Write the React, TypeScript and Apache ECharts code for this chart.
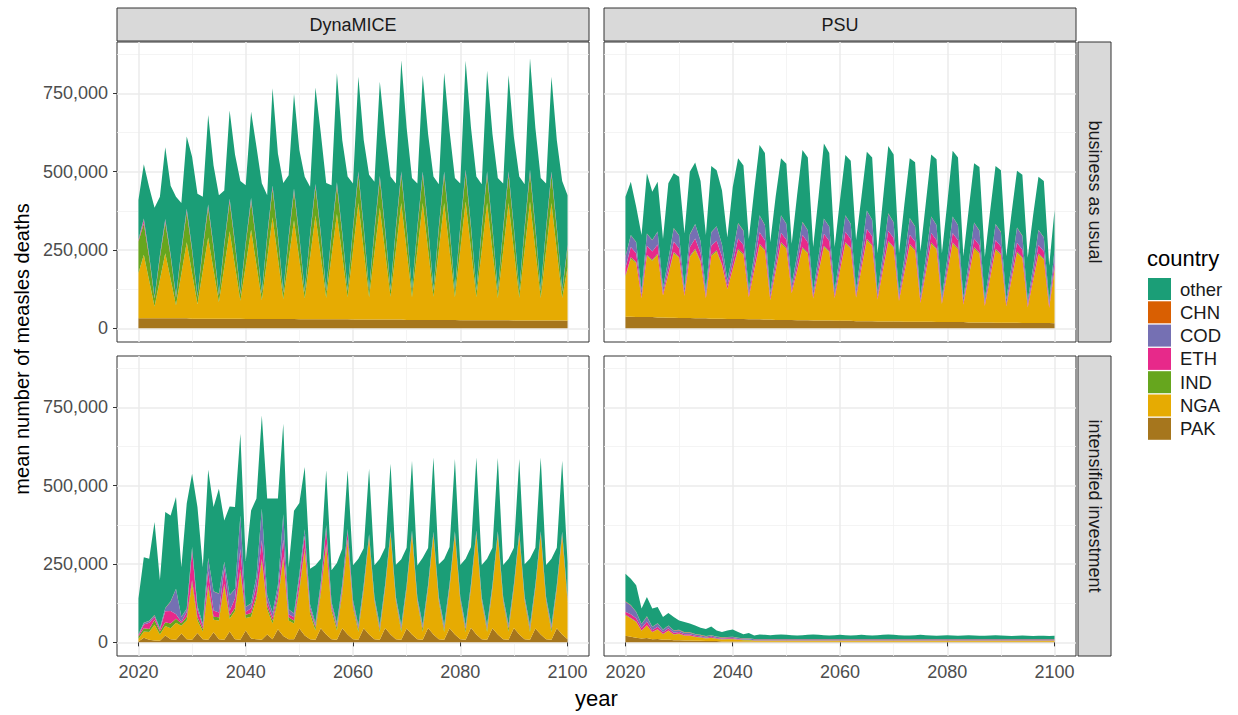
import React, { useEffect, useRef } from "react";
import * as echarts from "echarts";

// ---------- data (mean measles deaths, thousands) ----------
const YEARS: number[] = Array.from({ length: 81 }, (_, i) => 2020 + i);
const UNIT = 1000;
const X_TICKS = [2020, 2040, 2060, 2080, 2100];
const X_MINOR = [2030, 2050, 2070, 2090];
const Y_TICKS = [0, 250000, 500000, 750000];
const Y_MINOR = [125000, 375000, 625000, 875000];
const COUNTRIES = ["other", "CHN", "COD", "ETH", "IND", "NGA", "PAK"];
const MODELS = ["DynaMICE", "PSU"];
const SCENARIOS = ["business as usual", "intensified investment"];

const CHN_ALL = [
  1, 1, 1, 1, 1, 1, 1, 1, 1, 1, 1, 1, 1, 1, 1, 1, 1, 1, 1, 1,
  1, 1, 1, 1, 1, 1, 1, 1, 1, 1, 1, 1, 1, 1, 1, 1, 1, 1, 1, 1,
  1, 1, 1, 1, 1, 1, 1, 1, 1, 1, 1, 1, 1, 1, 1, 1, 1, 1, 1, 1,
  1, 1, 1, 1, 1, 1, 1, 1, 1, 1, 1, 1, 1, 1, 1, 1, 1, 1, 1, 1,
  1,
];

// DynaMICE - business as usual
const A_PAK = [
  32, 32, 32, 32, 32, 32, 32, 32, 32, 32,
  31, 31, 31, 31, 31, 31, 31, 31, 31, 31,
  30, 30, 30, 30, 30, 30, 30, 30, 30, 30,
  29, 29, 29, 29, 29, 29, 29, 29, 29, 29,
  28, 28, 28, 28, 28, 28, 28, 28, 28, 28,
  27, 27, 27, 27, 27, 27, 27, 27, 27, 27,
  26, 26, 26, 26, 26, 26, 26, 26, 26, 26,
  25, 25, 25, 25, 25, 25, 25, 25, 25, 25,
  24,
];
const A_NGA = [
  145, 203, 120, 38, 123, 208, 125, 42, 142, 243,
  145, 47, 153, 259, 155, 52, 165, 279, 168, 57,
  171, 285, 172, 60, 192, 325, 194, 63, 189, 315,
  190, 66, 198, 331, 200, 68, 202, 336, 203, 70,
  221, 372, 221, 71, 214, 357, 215, 73, 222, 372,
  222, 72, 222, 373, 224, 74, 223, 373, 222, 72,
  225, 379, 226, 73, 223, 374, 222, 71, 222, 374,
  223, 73, 226, 380, 226, 72, 223, 375, 223, 72,
  170,
];
const A_IND = [
  100, 100, 74, 25, 72, 98, 72, 24, 71, 96,
  71, 23, 70, 94, 70, 22, 69, 93, 69, 22,
  68, 90, 68, 21, 67, 90, 68, 21, 67, 90,
  68, 21, 67, 90, 68, 21, 67, 90, 68, 21,
  67, 90, 68, 21, 67, 90, 68, 21, 67, 90,
  68, 21, 67, 90, 68, 21, 67, 90, 68, 21,
  67, 90, 68, 21, 67, 90, 68, 21, 67, 90,
  68, 21, 67, 90, 68, 21, 67, 90, 68, 21,
  64,
];
const A_ETH = [
  3, 10, 3, 2, 3, 5, 3, 2, 3, 5,
  3, 2, 3, 5, 3, 2, 3, 5, 3, 2,
  3, 5, 3, 2, 3, 5, 3, 2, 3, 5,
  3, 2, 3, 5, 3, 2, 3, 5, 3, 2,
  3, 5, 3, 2, 3, 5, 3, 2, 3, 5,
  3, 2, 3, 5, 3, 2, 3, 5, 3, 2,
  3, 5, 3, 2, 3, 5, 3, 2, 3, 5,
  3, 2, 3, 5, 3, 2, 3, 5, 3, 2,
  3,
];
const A_COD = [
  3, 5, 3, 2, 3, 5, 3, 2, 3, 5,
  3, 2, 3, 5, 3, 2, 3, 5, 3, 2,
  3, 5, 3, 2, 3, 5, 3, 2, 3, 5,
  3, 2, 3, 5, 3, 2, 3, 5, 3, 2,
  3, 5, 3, 2, 3, 5, 3, 2, 3, 5,
  3, 2, 3, 5, 3, 2, 3, 5, 3, 2,
  3, 5, 3, 2, 3, 5, 3, 2, 3, 5,
  3, 2, 3, 5, 3, 2, 3, 5, 3, 2,
  3,
];
const A_OTHER = [
  126, 173, 217, 285, 186, 229, 219, 317, 148, 230,
  294, 324, 159, 286, 257, 315, 168, 281, 280, 355,
  181, 275, 303, 347, 129, 310, 259, 345, 196, 302,
  275, 363, 151, 308, 319, 341, 152, 348, 293, 360,
  139, 302, 277, 365, 152, 301, 302, 358, 138, 355,
  316, 355, 139, 307, 294, 358, 136, 315, 306, 355,
  137, 348, 313, 360, 137, 321, 297, 357, 140, 307,
  287, 361, 135, 356, 314, 357, 140, 302, 277, 347,
  160,
];

// PSU - business as usual
const B_PAK = [
  37, 37, 36, 36, 36, 36, 35, 35, 34, 34,
  33, 33, 33, 32, 32, 32, 31, 31, 31, 30,
  30, 30, 30, 29, 29, 29, 28, 28, 27, 27,
  27, 27, 26, 26, 26, 25, 25, 25, 25, 24,
  24, 24, 24, 23, 23, 23, 23, 22, 22, 22,
  22, 22, 21, 21, 21, 21, 21, 21, 20, 20,
  20, 20, 20, 20, 19, 19, 19, 19, 19, 18,
  18, 18, 18, 18, 17, 17, 17, 17, 17, 17,
  16,
];
const B_NGA = [
  128, 186, 173, 60, 195, 180, 200, 70, 138, 206,
  192, 70, 195, 218, 180, 64, 200, 214, 170, 95,
  158, 220, 205, 70, 154, 237, 220, 62, 153, 244,
  227, 85, 157, 229, 213, 70, 153, 235, 219, 72,
  160, 247, 230, 75, 167, 258, 240, 70, 162, 253,
  235, 65, 155, 244, 227, 60, 155, 249, 232, 58,
  154, 250, 232, 55, 146, 236, 219, 52, 142, 232,
  216, 52, 138, 223, 207, 50, 134, 218, 203, 48,
  170,
];
const B_IND = [
  3, 4, 3, 1, 3, 3, 3, 1, 2, 4,
  3, 1, 3, 4, 3, 1, 3, 4, 3, 1,
  2, 4, 3, 1, 2, 4, 3, 1, 2, 4,
  3, 1, 2, 4, 3, 1, 2, 4, 3, 1,
  2, 4, 3, 1, 2, 4, 3, 1, 2, 4,
  3, 1, 2, 4, 3, 1, 2, 4, 3, 1,
  2, 4, 3, 1, 2, 4, 3, 1, 2, 4,
  3, 1, 2, 4, 3, 1, 2, 4, 3, 1,
  2,
];
const B_ETH = [
  25, 33, 28, 8, 30, 26, 30, 8, 18, 33,
  28, 8, 28, 33, 25, 8, 30, 31, 25, 10,
  18, 33, 28, 8, 18, 37, 30, 8, 18, 30,
  26, 9, 18, 40, 32, 8, 18, 38, 32, 8,
  18, 33, 28, 8, 18, 32, 28, 8, 18, 32,
  28, 8, 17, 30, 26, 7, 17, 30, 26, 7,
  16, 30, 26, 7, 15, 28, 24, 7, 15, 28,
  24, 7, 15, 28, 24, 7, 15, 27, 23, 7,
  22,
];
const B_COD = [
  35, 37, 35, 15, 38, 36, 40, 15, 28, 42,
  40, 15, 40, 45, 38, 15, 42, 45, 38, 18,
  28, 48, 45, 15, 30, 53, 48, 15, 30, 55,
  50, 17, 30, 40, 38, 15, 30, 48, 45, 15,
  30, 52, 48, 16, 32, 58, 52, 15, 30, 55,
  50, 15, 30, 52, 48, 14, 30, 52, 48, 14,
  28, 52, 48, 14, 28, 50, 46, 14, 27, 50,
  46, 14, 27, 48, 44, 13, 26, 48, 44, 13,
  40,
];
const B_OTHER = [
  191, 170, 112, 177, 192, 154, 159, 155, 242, 175,
  187, 175, 200, 196, 191, 177, 211, 179, 172, 135,
  213, 207, 208, 161, 206, 224, 230, 160, 189, 182,
  191, 130, 191, 229, 232, 140, 191, 239, 235, 139,
  175, 192, 201, 158, 177, 188, 198, 123, 175, 215,
  216, 128, 169, 191, 204, 141, 174, 198, 210, 139,
  179, 210, 215, 132, 169, 189, 203, 134, 169, 185,
  197, 137, 169, 181, 194, 136, 165, 169, 179, 113,
  127,
];

// DynaMICE - intensified investment
const C_PAK = [
  3, 15, 8, 6, 5, 22, 10, 8, 28, 10,
  8, 30, 10, 8, 32, 10, 8, 35, 10, 8,
  38, 12, 10, 8, 25, 10, 42, 20, 10, 10,
  44, 22, 10, 8, 45, 25, 10, 8, 45, 25,
  10, 8, 45, 25, 10, 8, 46, 25, 10, 8,
  44, 25, 10, 8, 46, 25, 10, 8, 45, 25,
  10, 8, 47, 25, 10, 8, 45, 25, 10, 8,
  46, 25, 10, 8, 44, 25, 10, 8, 45, 25,
  10,
];
const C_NGA = [
  8, 20, 25, 50, 20, 30, 35, 55, 25, 60,
  180, 40, 25, 165, 40, 60, 170, 40, 90, 215,
  40, 70, 130, 250, 80, 50, 90, 245, 60, 50,
  120, 270, 80, 30, 110, 280, 90, 30, 110, 295,
  100, 25, 120, 310, 120, 25, 125, 320, 120, 25,
  125, 322, 118, 26, 124, 318, 120, 25, 126, 320,
  121, 24, 125, 322, 119, 25, 124, 320, 120, 26,
  125, 318, 121, 25, 126, 320, 120, 25, 124, 318,
  120,
];
const C_IND = [
  8, 10, 10, 15, 10, 12, 15, 12, 8, 12,
  10, 10, 8, 10, 10, 10, 8, 10, 10, 10,
  10, 12, 10, 8, 10, 10, 10, 8, 10, 10,
  10, 8, 10, 10, 10, 8, 10, 10, 10, 8,
  8, 10, 8, 3, 6, 10, 6, 3, 6, 10,
  6, 3, 6, 10, 6, 3, 6, 10, 6, 3,
  6, 10, 6, 3, 6, 10, 6, 3, 6, 10,
  6, 3, 6, 10, 6, 3, 6, 10, 6, 3,
  6,
];
const C_ETH = [
  3, 12, 20, 10, 5, 35, 40, 15, 5, 15,
  95, 25, 8, 45, 20, 15, 50, 15, 30, 65,
  10, 15, 30, 60, 15, 10, 20, 55, 10, 10,
  30, 40, 10, 5, 15, 50, 10, 5, 12, 25,
  8, 4, 5, 3, 3, 4, 3, 3, 3, 4,
  3, 3, 3, 4, 3, 3, 3, 4, 3, 3,
  3, 4, 3, 3, 3, 4, 3, 3, 3, 4,
  3, 3, 3, 4, 3, 3, 3, 4, 3, 3,
  3,
];
const C_COD = [
  3, 5, 5, 5, 5, 10, 30, 80, 15, 10,
  10, 10, 8, 40, 60, 60, 20, 50, 30, 106,
  15, 15, 30, 100, 20, 15, 20, 80, 15, 12,
  15, 20, 10, 8, 10, 10, 8, 8, 8, 8,
  8, 7, 6, 3, 5, 7, 5, 3, 5, 7,
  5, 3, 5, 7, 5, 3, 5, 7, 5, 3,
  5, 7, 5, 3, 5, 7, 5, 3, 5, 7,
  5, 3, 5, 7, 5, 3, 5, 7, 5, 3,
  5,
];
const C_OTHER = [
  114, 209, 198, 297, 152, 306, 274, 293, 158, 335,
  234, 316, 180, 282, 269, 334, 132, 283, 261, 261,
  146, 296, 248, 297, 308, 363, 276, 289, 134, 327,
  225, 199, 114, 184, 76, 175, 101, 191, 113, 187,
  111, 212, 115, 209, 101, 212, 117, 215, 103, 210,
  118, 223, 102, 214, 116, 237, 104, 211, 118, 230,
  101, 213, 117, 233, 103, 212, 118, 233, 102, 211,
  116, 232, 103, 213, 117, 235, 102, 212, 118, 227,
  110,
];

// PSU - intensified investment
const D_PAK = [
  21, 18, 15, 12, 14, 10, 11, 8, 9, 7,
  7, 6, 6, 5, 5, 4, 4, 4, 3, 3,
  3, 3, 3, 3, 2, 2, 2, 2, 2, 2,
  2, 2, 2, 2, 2, 2, 2, 2, 2, 2,
  2, 2, 2, 2, 2, 2, 2, 2, 2, 2,
  2, 2, 2, 2, 2, 2, 2, 2, 2, 2,
  2, 2, 2, 2, 2, 2, 2, 2, 2, 2,
  2, 2, 2, 2, 2, 2, 2, 2, 2, 2,
  2,
];
const D_NGA = [
  65, 58, 50, 25, 40, 22, 30, 18, 28, 18,
  20, 15, 15, 12, 10, 8, 10, 7, 6, 7,
  7, 5, 4, 4, 3, 3, 3, 3, 3, 3,
  3, 3, 3, 3, 3, 3, 3, 3, 3, 3,
  3, 3, 3, 3, 3, 3, 3, 3, 3, 3,
  3, 3, 3, 3, 3, 3, 3, 3, 3, 3,
  3, 3, 3, 3, 3, 3, 3, 3, 3, 3,
  3, 3, 3, 3, 3, 3, 3, 3, 3, 3,
  3,
];
const D_IND = [
  2, 2, 2, 1, 1, 1, 1, 1, 1, 1,
  1, 1, 1, 1, 1, 1, 1, 1, 1, 1,
  1, 1, 1, 1, 1, 1, 1, 1, 1, 1,
  1, 1, 1, 1, 1, 1, 1, 1, 1, 1,
  1, 1, 1, 1, 1, 1, 1, 1, 1, 1,
  1, 1, 1, 1, 1, 1, 1, 1, 1, 1,
  1, 1, 1, 1, 1, 1, 1, 1, 1, 1,
  1, 1, 1, 1, 1, 1, 1, 1, 1, 1,
  1,
];
const D_ETH = [
  10, 12, 10, 8, 12, 6, 8, 5, 7, 5,
  5, 4, 4, 3, 3, 2, 3, 2, 2, 2,
  2, 2, 1, 1, 1, 1, 1, 1, 1, 1,
  1, 1, 1, 1, 1, 1, 1, 1, 1, 1,
  1, 1, 1, 1, 1, 1, 1, 1, 1, 1,
  1, 1, 1, 1, 1, 1, 1, 1, 1, 1,
  1, 1, 1, 1, 1, 1, 1, 1, 1, 1,
  1, 1, 1, 1, 1, 1, 1, 1, 1, 1,
  1,
];
const D_COD = [
  32, 28, 20, 12, 15, 10, 10, 8, 8, 7,
  6, 5, 5, 5, 4, 4, 4, 4, 3, 3,
  4, 3, 3, 3, 3, 3, 3, 3, 3, 3,
  3, 3, 3, 3, 3, 3, 3, 3, 3, 3,
  3, 3, 3, 3, 3, 3, 3, 3, 3, 3,
  3, 3, 3, 3, 3, 3, 3, 3, 3, 3,
  3, 3, 3, 3, 3, 3, 3, 3, 3, 3,
  3, 3, 3, 3, 3, 3, 3, 3, 3, 3,
  3,
];
const D_OTHER = [
  88, 84, 84, 49, 62, 58, 52, 40, 40, 42,
  30, 33, 28, 27, 23, 23, 28, 19, 17, 21,
  23, 18, 13, 17, 11, 14, 13, 12, 13, 14,
  13, 12, 11, 12, 13, 14, 13, 12, 11, 12,
  13, 12, 11, 12, 13, 12, 11, 12, 13, 14,
  13, 12, 11, 11, 12, 13, 12, 11, 10, 11,
  12, 11, 10, 11, 12, 11, 10, 10, 11, 12,
  11, 10, 9, 10, 11, 10, 9, 10, 10, 9,
  10,
];

// ---------- styling ----------
const COLORS: Record<string, string> = {
  other: "#1B9E77",
  CHN: "#D95F02",
  COD: "#7570B3",
  ETH: "#E7298A",
  IND: "#66A61E",
  NGA: "#E6AB02",
  PAK: "#A6761D",
};
const STACK_ORDER = ["PAK", "NGA", "IND", "ETH", "COD", "CHN", "other"];
const FONT = "'Liberation Sans', Arial, Helvetica, sans-serif";

const PANELS = [
  { col: 0, row: 0, values: { PAK: A_PAK, NGA: A_NGA, IND: A_IND, ETH: A_ETH, COD: A_COD, CHN: CHN_ALL, other: A_OTHER } },
  { col: 1, row: 0, values: { PAK: B_PAK, NGA: B_NGA, IND: B_IND, ETH: B_ETH, COD: B_COD, CHN: CHN_ALL, other: B_OTHER } },
  { col: 0, row: 1, values: { PAK: C_PAK, NGA: C_NGA, IND: C_IND, ETH: C_ETH, COD: C_COD, CHN: CHN_ALL, other: C_OTHER } },
  { col: 1, row: 1, values: { PAK: D_PAK, NGA: D_NGA, IND: D_IND, ETH: D_ETH, COD: D_COD, CHN: CHN_ALL, other: D_OTHER } },
];

const COL_LEFT = [117, 604];
const ROW_TOP = [42, 356];
const GW = 472;
const GH = 300;
// x range padded like ggplot's 5% expansion: 2016 .. 2104
const PAD_YEARS = 4;
const X_CATS: string[] = Array.from({ length: 81 + 2 * PAD_YEARS }, (_, i) => String(YEARS[0] - PAD_YEARS + i));
const Y_MIN = -43500;
const Y_MAX = 913900;

const AXIS_FS = 18;
const TITLE_FS = 22;

const isMajorX = (_i: number, v: string) => X_TICKS.indexOf(Number(v)) >= 0;
const isMinorX = (_i: number, v: string) => X_MINOR.indexOf(Number(v)) >= 0;

function buildOption() {
  const grid: any[] = [];
  const xAxis: any[] = [];
  const yAxis: any[] = [];
  const series: any[] = [];

  PANELS.forEach((p) => {
    grid.push({
      left: COL_LEFT[p.col],
      top: ROW_TOP[p.row],
      width: GW,
      height: GH,
      show: true,
      borderColor: "#333333",
      borderWidth: 1,
      backgroundColor: "transparent",
      containLabel: false,
    });
  });

  PANELS.forEach((p, i) => {
    const bottom = p.row === 1;
    xAxis[i] = {
      type: "category",
      data: X_CATS,
      boundaryGap: false,
      gridIndex: i,
      position: "bottom",
      axisLine: { show: false },
      axisTick: { show: bottom, interval: isMajorX, length: 4, lineStyle: { color: "#333333", width: 1 } },
      axisLabel: { show: bottom, interval: isMajorX, fontSize: AXIS_FS, color: "#4D4D4D", margin: 7, fontFamily: FONT },
      splitLine: { show: true, interval: isMajorX, lineStyle: { color: "#EBEBEB", width: 1.5 } },
    };
    xAxis[4 + i] = {
      type: "category",
      data: X_CATS,
      boundaryGap: false,
      gridIndex: i,
      position: "bottom",
      axisLine: { show: false },
      axisTick: { show: false },
      axisLabel: { show: false },
      splitLine: { show: true, interval: isMinorX, lineStyle: { color: "#F1F1F1", width: 0.8 } },
    };
    const left = p.col === 0;
    yAxis[i] = {
      type: "value",
      gridIndex: i,
      min: Y_MIN,
      max: Y_MAX,
      position: "left",
      axisLine: { show: false },
      axisTick: { show: left, length: 4, lineStyle: { color: "#333333", width: 1 }, customValues: Y_TICKS },
      axisLabel: {
        show: left,
        customValues: Y_TICKS,
        fontSize: AXIS_FS,
        color: "#4D4D4D",
        margin: 9,
        fontFamily: FONT,
        formatter: (v: number) => Math.round(v).toLocaleString("en-US"),
      },
      splitLine: { show: true, lineStyle: { color: "#EBEBEB", width: 1.5 } },
    };
    yAxis[4 + i] = {
      type: "value",
      gridIndex: i,
      min: Y_MIN,
      max: Y_MAX,
      position: "left",
      axisLine: { show: false },
      axisTick: { show: false, customValues: Y_MINOR },
      axisLabel: { show: false, customValues: Y_MINOR },
      splitLine: { show: true, lineStyle: { color: "#F1F1F1", width: 0.8 } },
    };

    STACK_ORDER.forEach((c) => {
      const vals: number[] = (p.values as any)[c];
      const data: (number | null)[] = [];
      X_CATS.forEach((yr) => {
        const j = YEARS.indexOf(Number(yr));
        data.push(j >= 0 ? vals[j] * UNIT : null);
      });
      series.push({
        type: "line",
        name: c,
        xAxisIndex: i,
        yAxisIndex: i,
        stack: "panel" + i,
        data,
        symbol: "none",
        showSymbol: false,
        silent: true,
        connectNulls: false,
        lineStyle: { width: 0, opacity: 0 },
        areaStyle: { color: COLORS[c], opacity: 1 },
        itemStyle: { color: COLORS[c] },
        emphasis: { disabled: true },
        z: 3,
      });
    });
  });

  const graphic: any[] = [];
  MODELS.forEach((m, c) => {
    graphic.push({
      type: "rect",
      shape: { x: COL_LEFT[c], y: 8, width: GW, height: 33 },
      style: { fill: "#D9D9D9", stroke: "#333333", lineWidth: 1 },
    });
    graphic.push({
      type: "text",
      x: COL_LEFT[c] + GW / 2,
      y: 24.5,
      style: { text: m, fontSize: AXIS_FS, fill: "#1A1A1A", align: "center", verticalAlign: "middle", fontFamily: FONT },
    });
  });
  SCENARIOS.forEach((s, r) => {
    graphic.push({
      type: "rect",
      shape: { x: 1078, y: ROW_TOP[r], width: 33, height: GH },
      style: { fill: "#D9D9D9", stroke: "#333333", lineWidth: 1 },
    });
    graphic.push({
      type: "text",
      x: 1094.5,
      y: ROW_TOP[r] + GH / 2,
      rotation: -Math.PI / 2,
      style: { text: s, fontSize: AXIS_FS, fill: "#1A1A1A", align: "center", verticalAlign: "middle", fontFamily: FONT },
    });
  });
  graphic.push({
    type: "text",
    x: 22,
    y: 349,
    rotation: Math.PI / 2,
    style: { text: "mean number of measles deaths", fontSize: 20, fill: "#000000", align: "center", verticalAlign: "middle", fontFamily: FONT },
  });
  graphic.push({
    type: "text",
    x: 596.5,
    y: 698,
    style: { text: "year", fontSize: TITLE_FS, fill: "#000000", align: "center", verticalAlign: "middle", fontFamily: FONT },
  });
  graphic.push({
    type: "text",
    x: 1147,
    y: 258,
    style: { text: "country", fontSize: TITLE_FS, fill: "#000000", align: "left", verticalAlign: "middle", fontFamily: FONT },
  });

  return {
    animation: false,
    backgroundColor: "#FFFFFF",
    textStyle: { fontFamily: FONT },
    grid,
    xAxis,
    yAxis,
    series,
    graphic,
    legend: {
      data: COUNTRIES,
      orient: "vertical",
      left: 1148,
      top: 278,
      padding: 0,
      itemWidth: 23,
      itemHeight: 22,
      itemGap: 1.3,
      icon: "rect",
      selectedMode: false,
      textStyle: { fontSize: 18.5, color: "#1A1A1A", fontFamily: FONT, padding: [0, 0, 0, 4] },
    },
  };
}

export default function App() {
  const ref = useRef<HTMLDivElement>(null);
  useEffect(() => {
    if (!ref.current) return;
    const chart = echarts.init(ref.current, undefined, { renderer: "svg" });
    chart.setOption(buildOption() as any);
    return () => chart.dispose();
  }, []);
  return (
    <div
      ref={ref}
      style={{ position: "fixed", left: 0, top: 0, width: 1238, height: 715, background: "#FFFFFF" }}
    />
  );
}
